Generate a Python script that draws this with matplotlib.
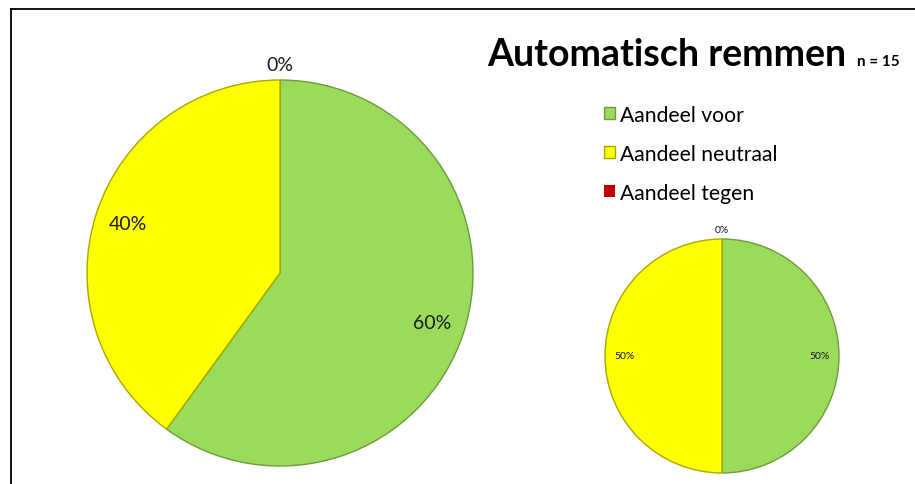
import matplotlib.pyplot as plt
import numpy as np
from matplotlib.lines import Line2D

plt.rcParams['font.family'] = ['Lato', 'DejaVu Sans']

labels = ["Aandeel voor", "Aandeel neutraal", "Aandeel tegen"]
big_values = [60, 40, 0]
small_values = [50, 50, 0]
colors = ["#9BDB5B", "#FFFF00", "#C00000"]
edges = ["#6E9A3A", "#A8A800", "#800000"]

title = "Automatisch remmen"
subtitle = "n = 15"

W, H = 915, 485
fig = plt.figure(figsize=(W / 100, H / 100), dpi=100)


def px_axes(cx, cy, r):
    # axes box in pixels -> figure fraction, square around the pie centre
    return fig.add_axes([(cx - r) / W, (H - cy - r) / H, 2 * r / W, 2 * r / H])


def draw_pie(ax, values, fsize, zero_dist):
    wedges, texts, autotexts = ax.pie(
        values, colors=colors, startangle=90, counterclock=False,
        autopct=lambda p: f"{p:.0f}%", pctdistance=0.83, radius=1,
        wedgeprops=dict(linewidth=1.0),
        textprops=dict(fontsize=fsize, color="#1a1a1a"),
    )
    for w, e, v in zip(wedges, edges, values):
        w.set_edgecolor(e)
        if v == 0:
            w.set_linewidth(0)
    # zero slices: label sits just outside the rim
    for w, t, v in zip(wedges, autotexts, values):
        if v == 0:
            ang = np.radians(w.theta1)
            t.set_position((zero_dist * np.cos(ang), zero_dist * np.sin(ang)))
        t.set_clip_on(False)
    ax.set_xlim(-1, 1)
    ax.set_ylim(-1, 1)
    ax.set_aspect("auto")
    ax.axis("off")
    return wedges


ax1 = px_axes(280, 274, 193)
wedges = draw_pie(ax1, big_values, 14, 1.08)

ax2 = px_axes(722, 357, 117)
draw_pie(ax2, small_values, 7.5, 1.08)

fig.text(487 / W, 1 - 66 / H, title, fontsize=27, fontweight="bold", ha="left", va="baseline")
fig.text(857 / W, 1 - 66 / H, subtitle, fontsize=11, fontweight="bold", ha="left", va="baseline")

fig.legend(wedges, labels, loc="upper left", bbox_to_anchor=(593 / W, 1 - 95 / H),
           frameon=False, fontsize=15.2, handlelength=0.55, handleheight=0.55,
           handletextpad=0.25, labelspacing=0.9, borderpad=0)

# frame lines (top and left)
fig.add_artist(Line2D([10.5 / W, 10.5 / W], [0, 1 - 9.5 / H], color="black", lw=1.3))
fig.add_artist(Line2D([10.5 / W, 1], [1 - 9.5 / H, 1 - 9.5 / H], color="black", lw=1.3))

fig.savefig("out.png", dpi=100)
